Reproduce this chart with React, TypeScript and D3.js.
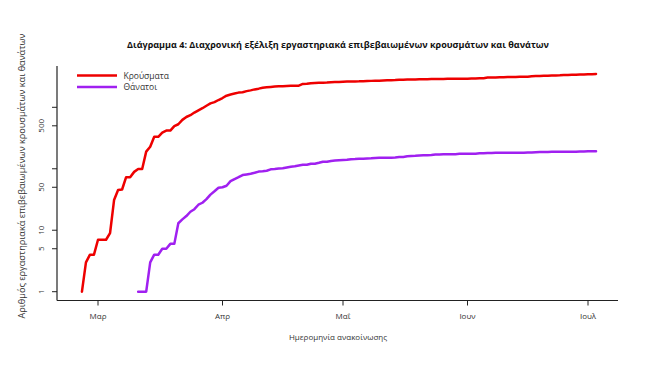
import React from "react";
import * as d3 from "d3";

const title = "Διάγραμμα 4: Διαχρονική εξέλιξη εργαστηριακά επιβεβαιωμένων κρουσμάτων και θανάτων";
const yTitle = "Αριθμός εργαστηριακά επιβεβαιωμένων κρουσμάτων και θανάτων";
const xTitle = "Ημερομηνία ανακοίνωσης";
const seriesNames = ["Κρούσματα", "Θάνατοι"];
const seriesColors = ["#ee0000", "#a020f0"];

const xTickDates = ["2020-03-01", "2020-04-01", "2020-05-01", "2020-06-01", "2020-07-01"];
const xTickLabels = ["Μαρ", "Απρ", "Μαΐ", "Ιουν", "Ιουλ"];
const yTickValues = [1, 5, 10, 50, 100, 500, 1000];
const yTickLabels = ["1", "5", "10", "50", "", "500", ""];

// daily cumulative cases, starting 2020-02-26
const casesStart = "2020-02-26";
const casesValues = [
  1, 3, 4, 4, 7, 7, 7, 9, 31, 45, 46, 73, 73, 89, 99, 99, 190, 228, 331, 331,
  387, 418, 418, 495, 530, 624, 695, 743, 821, 892, 966, 1061, 1156, 1212, 1314,
  1415, 1544, 1613, 1673, 1735, 1755, 1832, 1884, 1955, 2011, 2081, 2114, 2145, 2170, 2192,
  2207, 2224, 2235, 2235, 2245, 2401, 2408, 2463, 2490, 2506, 2517, 2534, 2566, 2576, 2591,
  2612, 2620, 2626, 2632, 2642, 2663, 2678, 2691, 2710, 2716, 2726, 2744, 2760, 2770, 2810,
  2819, 2834, 2836, 2840, 2850, 2853, 2873, 2876, 2878, 2882, 2892, 2903, 2906, 2909, 2915, 2917,
  2918, 2937, 2952, 2967, 2980, 3049, 3058, 3060, 3083, 3088, 3102, 3112, 3121, 3134, 3148,
  3148, 3203, 3227, 3237, 3256, 3266, 3287, 3302, 3310, 3343, 3366, 3376, 3390, 3409, 3432,
  3440, 3458, 3486,
];

// daily cumulative deaths, starting 2020-03-11
const deathsStart = "2020-03-11";
const deathsValues = [
  1, 1, 1, 3, 4, 4, 5, 5, 6, 6, 13, 15, 17, 20, 22, 26, 28, 32, 38, 43, 49,
  50, 53, 63, 68, 73, 79, 81, 83, 86, 90, 91, 93, 98, 99, 101, 102, 105, 108, 110,
  113, 116, 116, 121, 121, 125, 130, 130, 134, 136, 138,
  139, 140, 143, 144, 146, 146, 147, 148, 150, 151, 151, 151, 151, 152, 155, 156, 160, 162,
  163, 165, 166, 166, 168, 171, 171, 172, 173, 173, 173, 175, 175,
  175, 175, 176, 179, 179, 180, 180, 182, 182, 183, 183, 183, 183, 183, 183, 184, 184,
  186, 187, 188, 188, 189, 190, 190, 190, 190, 190, 190, 191, 191,
  192, 192, 192,
];

const DAY = 86400000;
function toSeries(start: string, values: number[]) {
  const t0 = new Date(start + "T00:00:00Z").getTime();
  return values.map((v, i) => ({ date: new Date(t0 + i * DAY), value: v }));
}

export default function App() {
  const W = 660;
  const H = 380;
  const x = d3
    .scaleUtc()
    .domain([new Date("2020-03-01T00:00:00Z"), new Date("2020-07-01T00:00:00Z")])
    .range([98, 588]);
  const y = d3.scaleLog().domain([1, 1000]).range([291.7, 107.3]);
  const plotLeft = 57;
  const plotRight = 618;
  const plotTop = 66;
  const plotBottom = 300.5;

  const line = d3
    .line<{ date: Date; value: number }>()
    .x((d) => x(d.date))
    .y((d) => y(d.value));

  const series = [toSeries(casesStart, casesValues), toSeries(deathsStart, deathsValues)];
  const font = "'Open Sans', 'DejaVu Sans', sans-serif";

  return (
    <div style={{ position: "absolute", left: 0, top: 0 }}>
      <svg width={W} height={H} style={{ display: "block", background: "#fff" }} fontFamily={font}>
        <rect x={0} y={0} width={W} height={H} fill="#fff" />
        <text
          x={338}
          y={48}
          textAnchor="middle"
          fontSize={9.5}
          fontWeight="bold"
          textLength={422}
          lengthAdjust="spacingAndGlyphs"
          fill="#111"
        >
          {title}
        </text>

        {/* axes box (L) */}
        <line x1={plotLeft} y1={plotTop} x2={plotLeft} y2={plotBottom} stroke="#222" strokeWidth={1.2} />
        <line x1={plotLeft} y1={plotBottom} x2={plotRight} y2={plotBottom} stroke="#222" strokeWidth={1.2} />

        {/* y ticks */}
        {yTickValues.map((v, i) => (
          <g key={"yt" + i}>
            <line x1={plotLeft - 5} x2={plotLeft} y1={y(v)} y2={y(v)} stroke="#222" strokeWidth={1} />
            {yTickLabels[i] && (
              <text
                transform={`translate(${44},${y(v)}) rotate(-90)`}
                textAnchor="middle"
                fontSize={8}
                fill="#333"
              >
                {yTickLabels[i]}
              </text>
            )}
          </g>
        ))}

        {/* x ticks */}
        {xTickDates.map((ds, i) => {
          const xx = x(new Date(ds + "T00:00:00Z"));
          return (
            <g key={"xt" + i}>
              <line x1={xx} x2={xx} y1={plotBottom} y2={plotBottom + 5} stroke="#222" strokeWidth={1} />
              <text x={xx} y={319} textAnchor="middle" fontSize={8} fill="#333">
                {xTickLabels[i]}
              </text>
            </g>
          );
        })}

        <text x={338} y={340} textAnchor="middle" fontSize={8} fill="#333">
          {xTitle}
        </text>
        <text
          transform={`translate(${25},${176}) rotate(-90)`}
          textAnchor="middle"
          fontSize={8.5}
          textLength={285}
          lengthAdjust="spacingAndGlyphs"
          fill="#333"
        >
          {yTitle}
        </text>

        {/* lines */}
        {series.map((s, i) => (
          <path
            key={"s" + i}
            d={line(s) || ""}
            fill="none"
            stroke={seriesColors[i]}
            strokeWidth={2.5}
            strokeLinejoin="round"
            strokeLinecap="round"
          />
        ))}

        {/* legend */}
        {seriesNames.map((n, i) => (
          <g key={"lg" + i}>
            <line x1={77} x2={117} y1={75.5 + i * 11.5} y2={75.5 + i * 11.5} stroke={seriesColors[i]} strokeWidth={2.5} />
            <text x={123.5} y={78.5 + i * 11.5} fontSize={8.5} fill="#333">
              {n}
            </text>
          </g>
        ))}
      </svg>
    </div>
  );
}
